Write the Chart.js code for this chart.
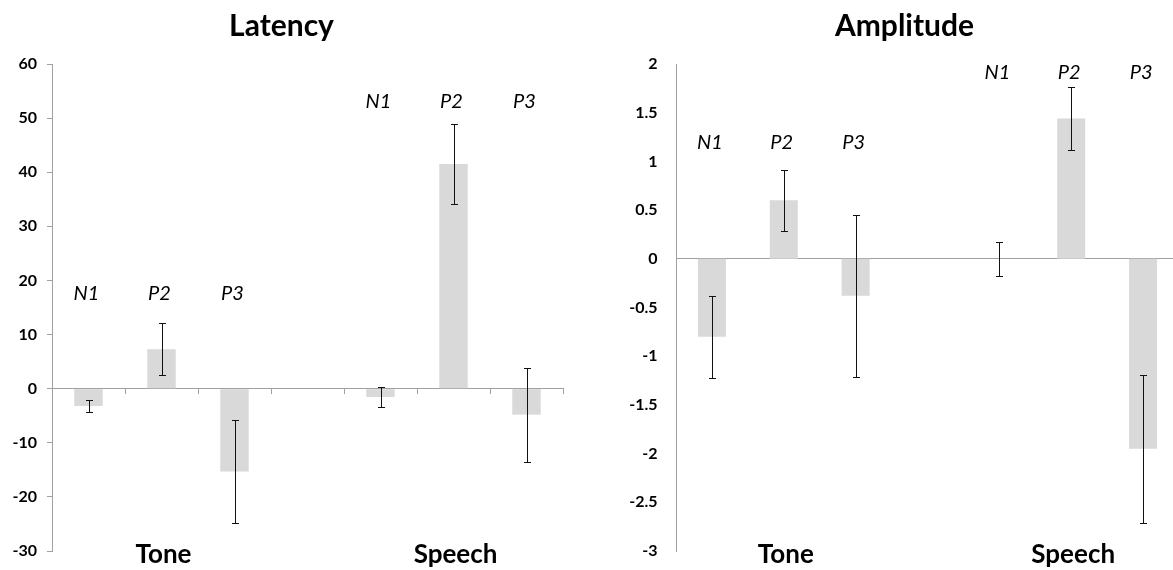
<!DOCTYPE html>
<html>
<head>
<meta charset="utf-8">
<script src="https://cdn.jsdelivr.net/npm/chart.js@4.4.1/dist/chart.umd.min.js"></script>
<style>
  html, body { margin: 0; padding: 0; background: #fff; overflow: hidden; width: 1173px; height: 570px; }
  .box { position: absolute; top: 0; height: 570px; }
  #b1 { left: 0; width: 578px; }
  #b2 { left: 630px; width: 550px; }
</style>
</head>
<body>
<div class="box" id="b1"><canvas id="c1"></canvas></div>
<div class="box" id="b2"><canvas id="c2"></canvas></div>
<script>
// ---- data ----
const categories = ['N1', 'P2', 'P3', '', 'N1', 'P2', 'P3'];
const groupLabels = ['', 'Tone', '', '', '', 'Speech', ''];

const latencyValues = [-3.2, 7.3, -15.3, null, -1.55, 41.5, -4.8];
const latencyErrors = [1.15, 4.8, 9.5, null, 1.9, 7.4, 8.7];
const latencyTicks = [-30, -20, -10, 0, 10, 20, 30, 40, 50, 60];

const amplitudeValues = [-0.80, 0.60, -0.38, null, 0.00, 1.44, -1.95];
const amplitudeErrors = [0.42, 0.31, 0.83, null, 0.175, 0.32, 0.76];
const amplitudeTicks = [-3, -2.5, -2, -1.5, -1, -0.5, 0, 0.5, 1, 1.5, 2];

// ---- styles ----
const AXIS = '#a0a0a0';
const BAR = '#d9d9d9';
const FONT = 'Lato';

function overlay(errors, levels) {
  return {
    id: 'overlay',
    afterDatasetsDraw(chart) {
      const ctx = chart.ctx;
      const ys = chart.scales.y;
      const meta = chart.getDatasetMeta(0);
      const vals = chart.data.datasets[0].data;
      ctx.save();
      ctx.strokeStyle = '#111';
      ctx.lineWidth = 1;
      meta.data.forEach((bar, i) => {
        const v = vals[i], e = errors[i];
        if (v == null || e == null) return;
        const x = Math.round(bar.x) + 0.5;
        const yt = Math.round(ys.getPixelForValue(v + e)) + 0.5;
        const yb = Math.round(ys.getPixelForValue(v - e)) + 0.5;
        const cap = 3.5;
        ctx.beginPath();
        ctx.moveTo(x, yt); ctx.lineTo(x, yb);
        ctx.moveTo(x - cap, yt); ctx.lineTo(x + cap, yt);
        ctx.moveTo(x - cap, yb); ctx.lineTo(x + cap, yb);
        ctx.stroke();
      });
      ctx.restore();
    },
    afterDraw(chart) {
      const ctx = chart.ctx;
      const xs = chart.scales.x, ys = chart.scales.y;
      const area = chart.chartArea;
      ctx.save();
      ctx.fillStyle = '#000';
      ctx.textAlign = 'center';
      ctx.textBaseline = 'alphabetic';
      ctx.font = 'italic 20px ' + FONT;
      categories.forEach((c, i) => {
        if (!c) return;
        const lvl = i < 3 ? levels[0] : levels[1];
        ctx.fillText(c, xs.getPixelForValue(i) - 2, ys.getPixelForValue(lvl) + 7);
      });
      ctx.font = 'bold 26px ' + FONT;
      groupLabels.forEach((g, i) => {
        if (!g) return;
        ctx.fillText(g, xs.getPixelForValue(i) + 2, area.bottom + 12);
      });
      ctx.restore();
    }
  };
}

function makeChart(id, title, values, errors, ticks, levels, opt) {
  const ymin = Math.min(...ticks), ymax = Math.max(...ticks);
  const step = ticks[1] - ticks[0];
  return new Chart(document.getElementById(id), {
    type: 'bar',
    data: {
      labels: categories,
      datasets: [{
        data: values,
        backgroundColor: BAR,
        borderWidth: 0,
        barPercentage: 0.39,
        categoryPercentage: 1.0
      }]
    },
    options: {
      responsive: true,
      maintainAspectRatio: false,
      animation: false,
      layout: { padding: { left: 0, right: opt.right, top: 0, bottom: 19 } },
      plugins: {
        legend: { display: false },
        tooltip: { enabled: false },
        title: {
          display: true,
          text: title,
          color: '#000',
          font: { family: FONT, size: 30, weight: 'bold' },
          padding: { top: 8, bottom: 20 }
        }
      },
      scales: {
        x: {
          position: { y: 0 },
          ticks: { display: false },
          grid: {
            display: opt.xTicks,
            drawOnChartArea: false,
            drawTicks: true,
            tickLength: 5,
            color: AXIS,
            offset: true
          },
          border: { display: true, color: AXIS, width: 1 }
        },
        y: {
          min: ymin,
          max: ymax,
          afterBuildTicks(scale) { scale.ticks = ticks.map(v => ({ value: v })); },
          ticks: {
            stepSize: step,
            padding: opt.yPad,
            color: '#000',
            font: { family: FONT, size: 16, weight: 'bold' },
            callback: (v) => String(v)
          },
          grid: {
            display: opt.yTicks,
            drawOnChartArea: false,
            drawTicks: opt.yTicks,
            tickLength: 5,
            color: AXIS
          },
          border: { display: true, color: AXIS, width: 1 },
          afterFit(scale) {
            scale.width = opt.yWidth;
            scale.paddingTop = 0;
            scale.paddingBottom = 0;
          }
        }
      }
    },
    plugins: [overlay(errors, levels)]
  });
}

makeChart('c1', 'Latency', latencyValues, latencyErrors, latencyTicks, [17.6, 53.2],
  { right: 15, yWidth: 52, yPad: 10, xTicks: true, yTicks: true });
makeChart('c2', 'Amplitude', amplitudeValues, amplitudeErrors, amplitudeTicks, [1.2, 1.915],
  { right: 1, yWidth: 46, yPad: 18.5, xTicks: false, yTicks: false });
</script>
</body>
</html>
